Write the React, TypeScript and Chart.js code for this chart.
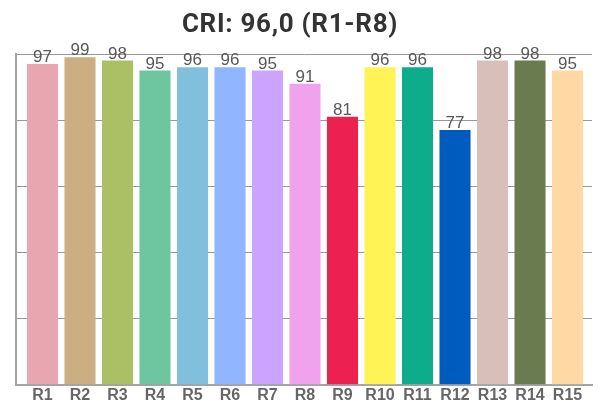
import React, { useEffect, useRef } from "react";
import { Chart, registerables } from "chart.js";

Chart.register(...registerables);

const categories = ["R1", "R2", "R3", "R4", "R5", "R6", "R7", "R8", "R9", "R10", "R11", "R12", "R13", "R14", "R15"];
const values = [97, 99, 98, 95, 96, 96, 95, 91, 81, 96, 96, 77, 98, 98, 95];
const barColors = [
  "#E8A6B0", "#CBAF82", "#ABBF64", "#6DC6A0", "#80C0DC", "#8FB6FF", "#CCA4FF", "#F0A2EC",
  "#EC2150", "#FFF356", "#0DAC8A", "#005BBF", "#D8BFBA", "#6B7B50", "#FFD8A4",
];
const titleText = "CRI: 96,0 (R1-R8)";

const valueLabels = {
  id: "valueLabels",
  afterDatasetsDraw(chart: any) {
    const ctx = chart.ctx;
    const meta = chart.getDatasetMeta(0);
    ctx.save();
    ctx.font = "17px 'Liberation Sans', Arial, sans-serif";
    ctx.fillStyle = "#585858";
    ctx.textAlign = "center";
    ctx.textBaseline = "alphabetic";
    meta.data.forEach((bar: any, i: number) => {
      ctx.fillText(String(values[i]), bar.x, bar.y - 2);
    });
    ctx.restore();
  },
};

const titlePlugin = {
  id: "customTitle",
  afterDraw(chart: any) {
    const ctx = chart.ctx;
    ctx.save();
    ctx.font = "bold 26px Roboto, 'Liberation Sans', sans-serif";
    try { (ctx as any).letterSpacing = "0.7px"; } catch (e) {}
    ctx.fillStyle = "#333333";
    ctx.textAlign = "center";
    ctx.textBaseline = "alphabetic";
    ctx.fillText(titleText, 290, 31.5);
    ctx.restore();
  },
};

export default function App() {
  const ref = useRef<HTMLCanvasElement>(null);
  useEffect(() => {
    if (!ref.current) return;
    const chart = new Chart(ref.current, {
      type: "bar",
      data: {
        datasets: [
          {
            data: values.map((v, i) => ({ x: i, y: v })),
            backgroundColor: barColors,
            borderWidth: 0,
            barPercentage: 0.9,
            categoryPercentage: 0.92,
          },
        ],
      },
      options: {
        animation: false,
        responsive: false,
        devicePixelRatio: 1,
        layout: { padding: { left: 16, right: 6, top: 54, bottom: 4 } },
        plugins: {
          legend: { display: false },
          tooltip: { enabled: false },
          title: { display: false },
        },
        scales: {
          x: {
            type: "linear",
            min: -0.7067,
            max: 14.653,
            offset: false,
            grid: { display: false, drawTicks: false },
            border: { display: true, color: "#A3A3A3", width: 2 },
            ticks: {
              stepSize: 1,
              includeBounds: false,
              color: "#666666",
              font: { family: "'Liberation Sans', Arial, sans-serif", size: 16, weight: "bold" },
              padding: 1,
              maxRotation: 0,
              autoSkip: false,
              callback: (v: any) => {
                const i = Math.round(Number(v));
                return Math.abs(Number(v) - i) < 1e-6 ? categories[i] ?? "" : "";
              },
            },
          },
          y: {
            min: 0,
            max: 100,
            ticks: { display: false, stepSize: 20 },
            grid: { color: "#999999", lineWidth: 1, drawTicks: false },
            border: { display: true, color: "#A3A3A3", width: 2 },
            afterFit: (s: any) => { s.width = 0; },
          },
        },
      },
      plugins: [valueLabels, titlePlugin],
    });
    return () => chart.destroy();
  }, []);
  return (
    <div style={{ position: "fixed", left: 0, top: 0, width: 598, height: 410, background: "#fff" }}>
      <canvas ref={ref} width={598} height={410} style={{ display: "block" }} />
    </div>
  );
}
